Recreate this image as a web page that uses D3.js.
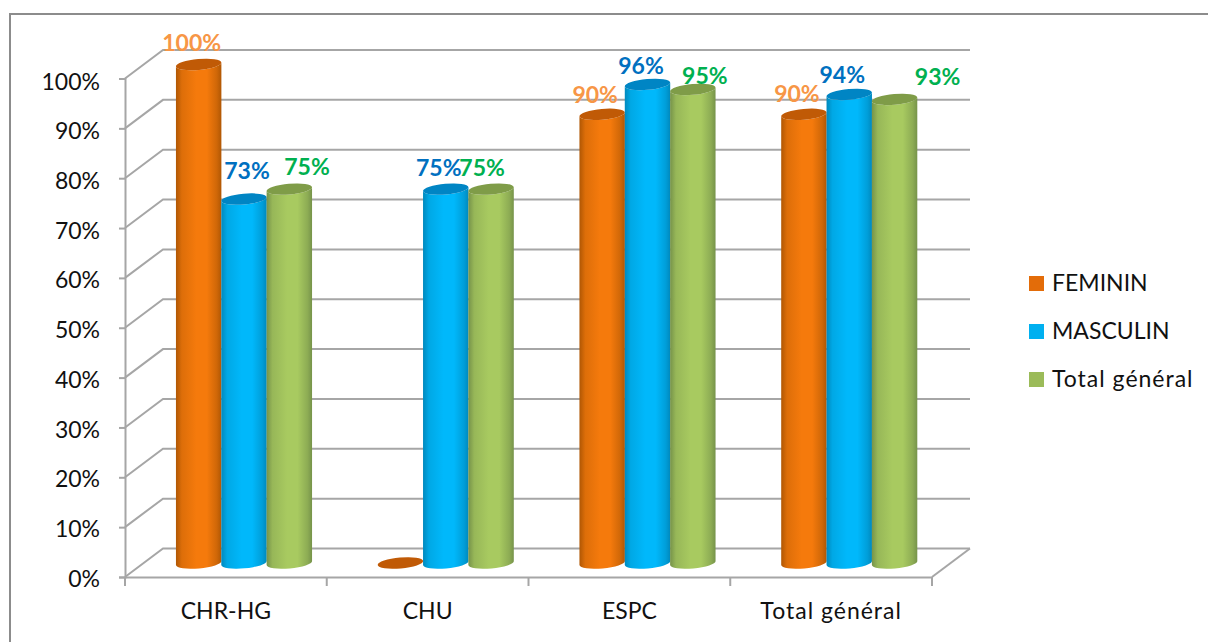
<!DOCTYPE html>
<html>
<head>
<meta charset="utf-8">
<script src="https://cdn.jsdelivr.net/npm/d3@7/dist/d3.min.js"></script>
<style>
  html, body { margin: 0; padding: 0; background: #fff; }
  text { font-family: Lato, "Open Sans", sans-serif; }
</style>
</head>
<body>
<svg id="chart" width="1208" height="642"></svg>
<script>
// Survey rates per facility type and sex
const categories = ["CHR-HG", "CHU", "ESPC", "Total général"];
const seriesNames = ["FEMININ", "MASCULIN", "Total général"];
const feminin = [100, 0, 90, 90];
const masculin = [73, 75, 96, 94];
const totalGeneral = [75, 75, 95, 93];
const yTicks = [0, 10, 20, 30, 40, 50, 60, 70, 80, 90, 100];

// Series colours: side gradient stops, cap, legend swatch, value label
const edgeDark = ["#b05704", "#0089bd", "#76934a"];
const bodyMain = ["#f57a0c", "#00b8fb", "#a8ca60"];
const capFill = ["#c05a06", "#0085c4", "#7f9c48"];
const swatch = ["#e36c09", "#00b0f0", "#9bbb59"];
const labelFill = ["#f79646", "#0070c0", "#00b050"];

const seriesValues = [feminin, masculin, totalGeneral];

const svg = d3.select("#chart");
const defs = svg.append("defs");

// Frame: only the top and left edges of the chart area show
svg.append("path")
  .attr("d", d3.line()([[10, 642], [10, 14], [1208, 14]]))
  .attr("fill", "none").attr("stroke", "#8c8c8c").attr("stroke-width", 2);

// Oblique projection: the back wall sits up and to the right of the front plane
const depthX = 38, depthY = -28.5;
const y = d3.scaleLinear().domain([0, 100]).range([577, 78.5]);
const x = d3.scaleBand().domain(categories).range([125, 932]);
const seriesX = d3.scaleBand().domain(d3.range(3)).range([0, 136]);
const barInset = 51;   // gap between band start and first cylinder
const barRise = 14;    // cylinders stand midway along the floor depth

const gridColor = "#a6a6a6";
const grid = svg.append("g").attr("fill", "none").attr("stroke", gridColor).attr("stroke-width", 2);

// Back wall gridlines and their returns along the side wall
yTicks.forEach(t => {
  const py = y(t);
  grid.append("path").attr("d", d3.line()([
    [x.range()[0], py],
    [x.range()[0] + depthX, py + depthY],
    [x.range()[1] + depthX, py + depthY]
  ]));
});
// Right-hand floor edge
grid.append("path").attr("d", d3.line()([
  [x.range()[1], y(0)],
  [x.range()[1] + depthX, y(0) + depthY]
]));

// "Total général" runs wider than the rest of the set, so it gets extra tracking
const trackLabel = d => d === "Total général" ? "1px" : "0";

// Front value axis
const yAxis = d3.axisLeft(y).tickValues(yTicks).tickFormat(d => d + "%").tickSize(6).tickPadding(19);
const yG = svg.append("g").attr("transform", `translate(${x.range()[0]},0)`).call(yAxis);
yG.select(".domain").attr("stroke", gridColor).attr("stroke-width", 2);
yG.selectAll(".tick line").attr("stroke", gridColor).attr("stroke-width", 2);
yG.selectAll(".tick text")
  .attr("fill", "#111").attr("font-size", 23).style("font-family", "Lato, sans-serif")
  .attr("dy", d => (3.5 + d * 0.012) + "px")
  .attr("dominant-baseline", "middle");

// Front category axis
const xAxis = d3.axisBottom(x).tickSize(0).tickPadding(26);
const xG = svg.append("g").attr("transform", `translate(0,${y(0)})`).call(xAxis);
xG.select(".domain").attr("stroke", gridColor).attr("stroke-width", 2);
xG.selectAll(".tick text")
  .attr("fill", "#111").attr("font-size", 23).style("font-family", "Lato, sans-serif")
  .style("letter-spacing", trackLabel);
const edgeTicks = categories.map(c => x(c)).concat(x.range()[1]);
svg.append("g").selectAll("line").data(edgeTicks).join("line")
  .attr("x1", d => d).attr("x2", d => d)
  .attr("y1", y(0)).attr("y2", y(0) + 9)
  .attr("stroke", gridColor).attr("stroke-width", 2);

// Side shading of each cylinder
seriesNames.forEach((name, s) => {
  const g = defs.append("linearGradient").attr("id", "cyl" + s)
    .attr("x1", "0").attr("x2", "1").attr("y1", "0").attr("y2", "0");
  [[0, edgeDark[s]], [0.13, d3.interpolateRgb(edgeDark[s], bodyMain[s])(0.65)],
   [0.45, bodyMain[s]], [0.68, bodyMain[s]],
   [0.9, d3.interpolateRgb(edgeDark[s], bodyMain[s])(0.45)], [1, edgeDark[s]]]
    .forEach(([o, c]) => g.append("stop").attr("offset", o).attr("stop-color", c));
});

// Cylinders, drawn left to right so each overlaps its left neighbour's edge
const rx = 22.8, ry = 5.4, tilt = -5;
const rad = tilt * Math.PI / 180;
const dx = rx * Math.cos(rad), dy = rx * Math.sin(rad);

const bars = svg.append("g");
categories.forEach((cat, c) => {
  seriesValues.forEach((vals, s) => {
    const cx = x(cat) + barInset + seriesX(s) + seriesX.bandwidth() / 2;
    const base = y(0) - barRise;
    const top = y(vals[c]) - barRise;
    const arc = `A${rx},${ry} ${tilt} 0 0`;
    if (vals[c] > 0) {
      bars.append("path")
        .attr("fill", `url(#cyl${s})`)
        .attr("d", `M${cx - dx},${top - dy} L${cx - dx},${base - dy} ${arc} ${cx + dx},${base + dy} L${cx + dx},${top + dy} ${arc.slice(0, -1)}1 ${cx - dx},${top - dy}Z`);
    }
    bars.append("ellipse")
      .attr("cx", cx).attr("cy", top).attr("rx", rx).attr("ry", ry)
      .attr("transform", `rotate(${tilt} ${cx} ${top})`)
      .attr("fill", capFill[s]);
  });
});

// Value labels; zero values carry no label, and crowded ones are nudged apart
const labelNudge = [
  [[-7, -21.5], null, [-7, -19.5], [-7, -20.5]],
  [[3, -28], [-7, -21], [-6.5, -18.5], [-7, -19.5]],
  [[17.7, -22], [-9, -21], [12, -13.5], [43, -22.5]]
];
const labels = svg.append("g");
categories.forEach((cat, c) => {
  seriesValues.forEach((vals, s) => {
    if (!labelNudge[s][c]) return;
    const cx = x(cat) + barInset + seriesX(s) + seriesX.bandwidth() / 2;
    labels.append("text")
      .attr("x", cx + labelNudge[s][c][0])
      .attr("y", y(vals[c]) - barRise + labelNudge[s][c][1] + 2)
      .attr("text-anchor", "middle")
      .attr("dominant-baseline", "middle")
      .attr("font-size", 23).attr("font-weight", 700)
      .attr("fill", labelFill[s])
      .text(vals[c] + "%");
  });
});

// Legend
const legendY = d3.scalePoint().domain(seriesNames).range([283.5, 379.5]);
const legend = svg.append("g");
seriesNames.forEach((name, s) => {
  legend.append("rect")
    .attr("x", 1029).attr("y", legendY(name) - 7.5)
    .attr("width", 15).attr("height", 15).attr("fill", swatch[s]);
  legend.append("text")
    .attr("x", 1052).attr("y", legendY(name) + 2)
    .attr("dominant-baseline", "middle")
    .attr("font-size", 23).attr("fill", "#111")
    .style("letter-spacing", trackLabel(name))
    .text(name);
});
</script>
</body>
</html>
